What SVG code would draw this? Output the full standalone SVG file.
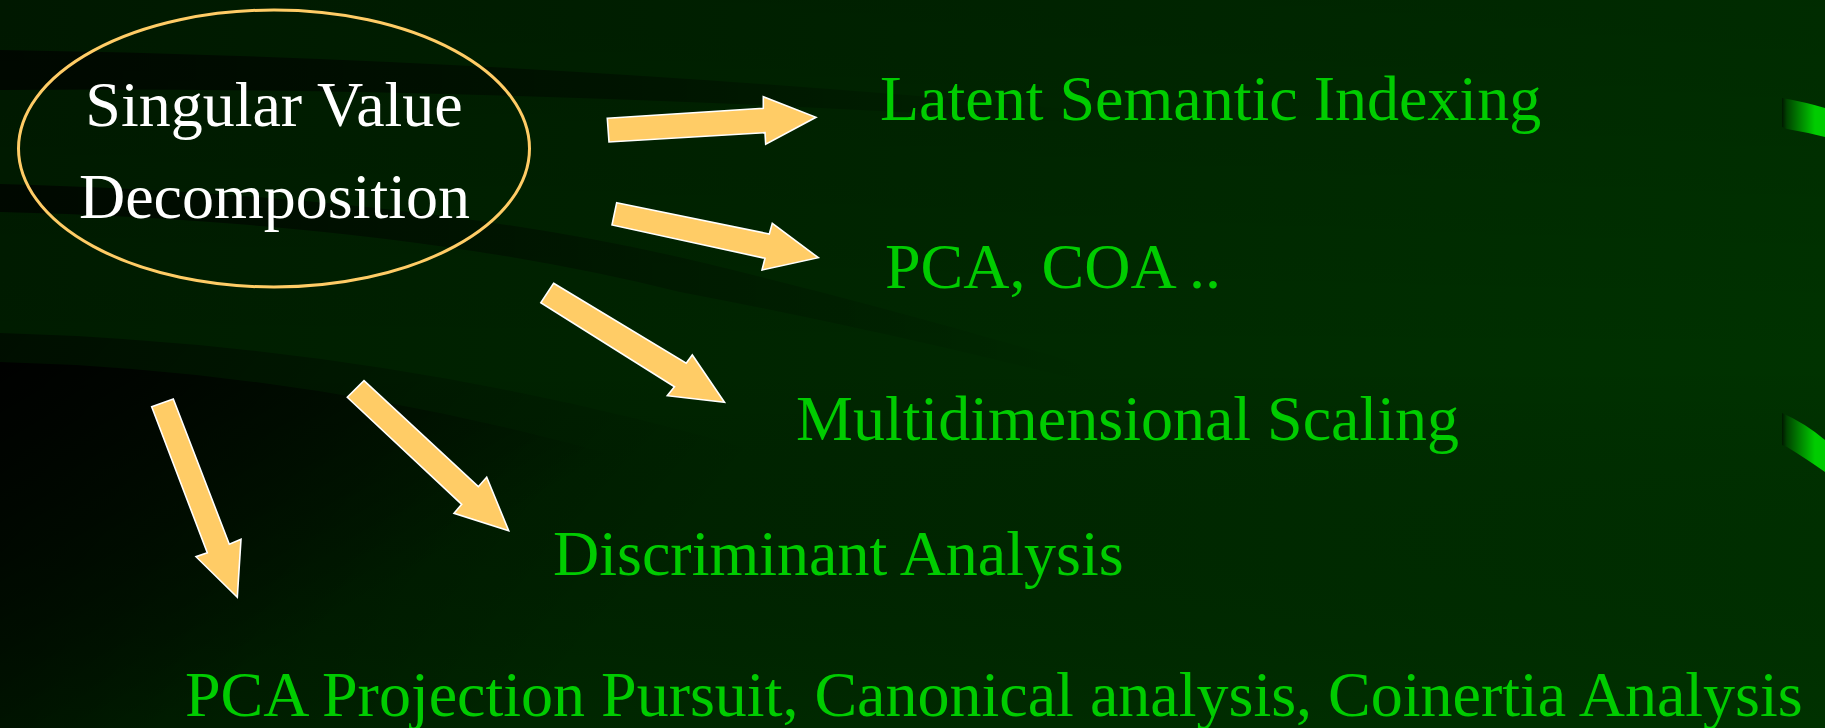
<svg xmlns="http://www.w3.org/2000/svg" width="1825" height="728" viewBox="0 0 1825 728">
<defs>
<style>
.lbl{font-family:"Liberation Serif","Times New Roman",serif;font-size:64px;fill:#00CC00}
.svd{font-family:"Liberation Serif","Times New Roman",serif;font-size:64px;fill:#FFFFFF;text-anchor:middle}
.arrow{fill:#FFCC66;stroke:#FFFFFF;stroke-width:1.6;stroke-linejoin:miter}
</style>
<linearGradient id="bg" x1="0" y1="0" x2="1" y2="0">
<stop offset="0" stop-color="#001c00"/>
<stop offset="0.45" stop-color="#002600"/>
<stop offset="1" stop-color="#003300"/>
</linearGradient>
<linearGradient id="bgv" x1="0" y1="0" x2="0" y2="1">
<stop offset="0" stop-color="#000000" stop-opacity="0.15"/>
<stop offset="0.5" stop-color="#000000" stop-opacity="0"/>
<stop offset="1" stop-color="#003000" stop-opacity="0.3"/>
</linearGradient>
<linearGradient id="bandA" gradientUnits="userSpaceOnUse" x1="0" y1="0" x2="1100" y2="0">
<stop offset="0" stop-color="#000000" stop-opacity="0.7"/>
<stop offset="0.6" stop-color="#000000" stop-opacity="0.35"/>
<stop offset="1" stop-color="#000000" stop-opacity="0"/>
</linearGradient>
<linearGradient id="bandB" gradientUnits="userSpaceOnUse" x1="0" y1="0" x2="1100" y2="0">
<stop offset="0" stop-color="#000000" stop-opacity="0.7"/>
<stop offset="0.55" stop-color="#000000" stop-opacity="0.3"/>
<stop offset="1" stop-color="#000000" stop-opacity="0"/>
</linearGradient>
<linearGradient id="bandC" gradientUnits="userSpaceOnUse" x1="0" y1="360" x2="200" y2="700">
<stop offset="0" stop-color="#000000" stop-opacity="0.95"/>
<stop offset="0.4" stop-color="#000000" stop-opacity="0.55"/>
<stop offset="1" stop-color="#000000" stop-opacity="0"/>
</linearGradient>
<linearGradient id="bandC2" gradientUnits="userSpaceOnUse" x1="0" y1="330" x2="500" y2="760">
<stop offset="0" stop-color="#000000" stop-opacity="0.5"/>
<stop offset="0.6" stop-color="#000000" stop-opacity="0.2"/>
<stop offset="1" stop-color="#000000" stop-opacity="0"/>
</linearGradient>
<linearGradient id="sw" gradientUnits="userSpaceOnUse" x1="1782" y1="0" x2="1815" y2="0">
<stop offset="0" stop-color="#001800"/>
<stop offset="0.15" stop-color="#004400"/>
<stop offset="1" stop-color="#00CC00"/>
</linearGradient>
</defs>

<g id="background">
<rect x="0" y="0" width="1825" height="728" fill="url(#bg)"/>
<rect x="0" y="0" width="1825" height="728" fill="url(#bgv)"/>
<path d="M0,50 Q520,58 1100,112 L1100,124 Q520,86 0,90 Z" fill="url(#bandA)"/>
<path d="M0,184 Q420,195 700,262 Q900,310 1100,370 L1100,385 Q880,330 680,292 Q400,222 0,212 Z" fill="url(#bandB)"/>
<path d="M0,333 Q420,345 820,470 Q1250,610 1640,728 L0,728 Z" fill="url(#bandC2)"/>
<path d="M0,362 Q380,372 760,500 Q1100,620 1400,728 L0,728 Z" fill="url(#bandC)"/>
<path d="M1782,98 Q1805,102 1825,108 L1825,137 Q1805,132 1787,129 L1782,127 Z" fill="url(#sw)"/>
<path d="M1782,413 Q1805,423 1825,440 L1825,472 Q1805,458 1787,447 L1782,445 Z" fill="url(#sw)"/>
</g>

<g id="connectors">
<polygon class="arrow" points="607.3,118.3 763.3,108.3 763.3,96.7 816,117.3 765.7,144.3 765,132.7 609,142"/>
<polygon class="arrow" points="616.7,202.7 769.3,234 772.3,223.3 818.3,257.7 762,270 765,258.3 612,225"/>
<polygon class="arrow" points="553.6,283.3 686.2,363.3 692.3,355 724.5,402.3 667.3,395.7 674.5,386.7 540.8,302.7"/>
<polygon class="arrow" points="364,380.7 478.3,486.7 486.7,477.3 508.7,530.7 454,513.3 461.7,504.3 347.3,397.3"/>
<polygon class="arrow" points="173.3,399 229.3,544.3 241,539.3 237.3,597.3 196,556.7 207.3,552.7 151.7,406.7"/>
</g>

<g id="node-svd">
<ellipse cx="274" cy="148.5" rx="255.5" ry="138.5" fill="none" stroke="#FFCC66" stroke-width="3"/>
<text class="svd" x="274" y="126">Singular Value</text>
<text class="svd" x="274.5" y="218">Decomposition</text>
</g>
<g id="node-lsi"><text class="lbl" x="880" y="120">Latent Semantic Indexing</text></g>
<g id="node-pca"><text class="lbl" x="885" y="288">PCA, COA ..</text></g>
<g id="node-mds"><text class="lbl" x="796" y="440">Multidimensional Scaling</text></g>
<g id="node-da"><text class="lbl" x="553" y="575">Discriminant Analysis</text></g>
<g id="node-pp"><text class="lbl" x="185" y="716">PCA Projection Pursuit, Canonical analysis, Coinertia Analysis</text></g>
</svg>
